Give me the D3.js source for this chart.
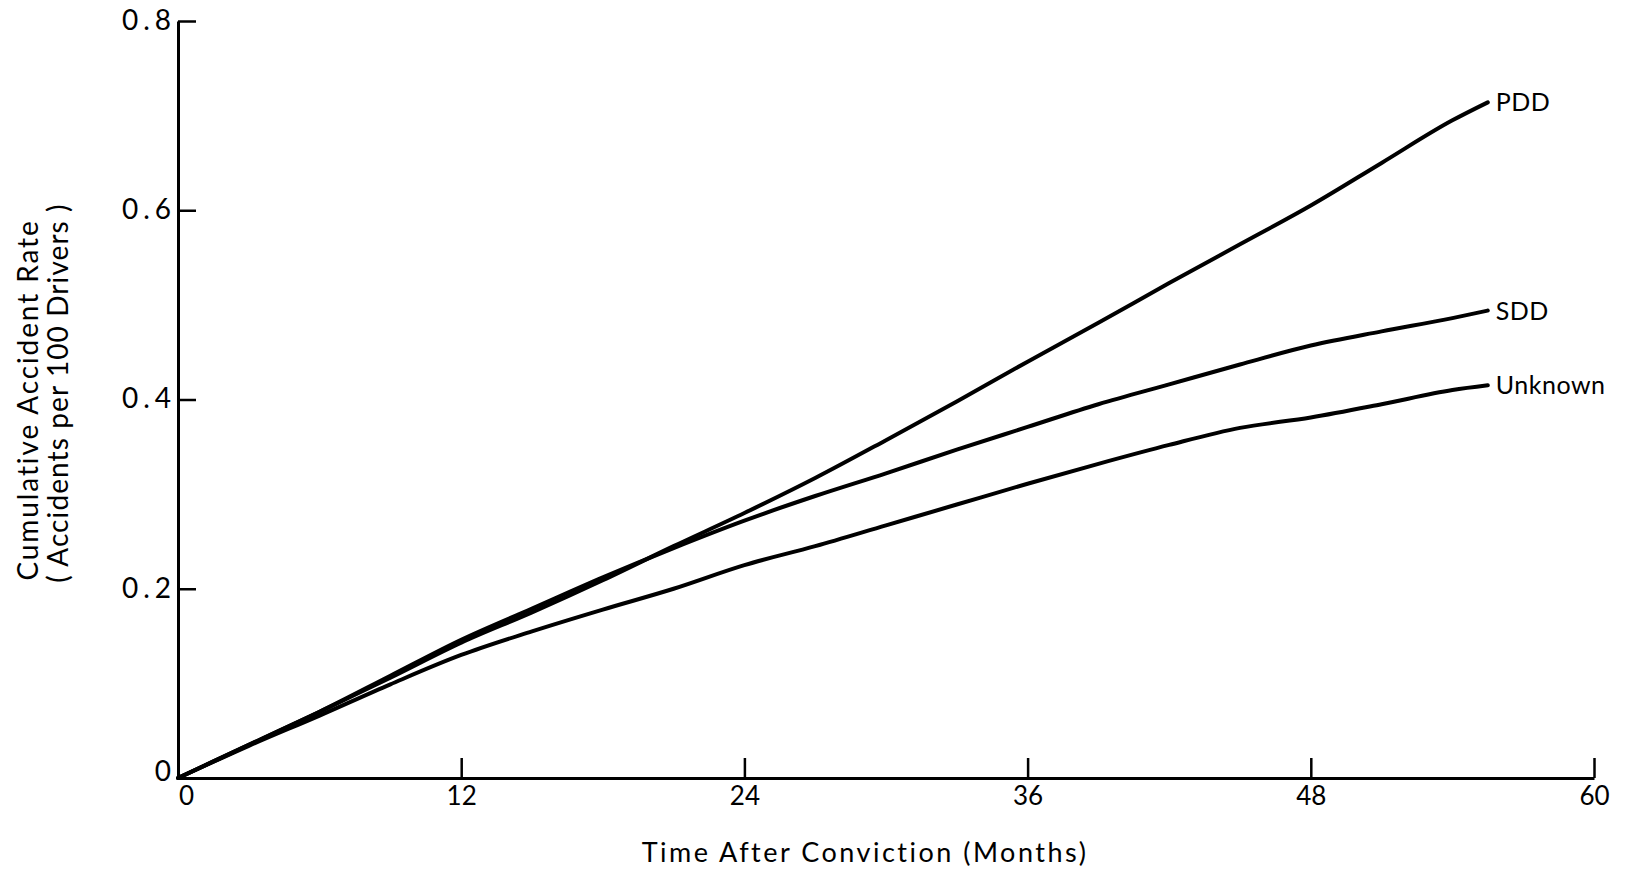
<!DOCTYPE html>
<html>
<head>
<meta charset="utf-8">
<script src="https://cdn.jsdelivr.net/npm/d3@7"></script>
<style>
  body { margin: 0; background: #fff; }
  text { font-family: Lato, "Open Sans", sans-serif; fill: #000; }
</style>
</head>
<body>
<svg id="chart"></svg>
<script>
// months after conviction
var months = [0, 3, 6, 9, 12, 15, 18, 21, 24, 27, 30, 33, 36, 39, 42, 45, 48, 51, 54, 55.5];

var pdd     = [0, 0.035, 0.07, 0.106, 0.143, 0.175, 0.209, 0.245, 0.28, 0.317, 0.357, 0.398, 0.44, 0.481, 0.523, 0.564, 0.605, 0.65, 0.695, 0.714];
var sdd     = [0, 0.035, 0.07, 0.108, 0.146, 0.179, 0.212, 0.243, 0.272, 0.298, 0.322, 0.347, 0.371, 0.395, 0.416, 0.437, 0.457, 0.472, 0.486, 0.494];
var unknown = [0, 0.034, 0.066, 0.099, 0.13, 0.155, 0.178, 0.2, 0.225, 0.245, 0.267, 0.289, 0.311, 0.332, 0.352, 0.37, 0.381, 0.395, 0.41, 0.415];

var seriesNames = ["PDD", "SDD", "Unknown"];
var xTicks = [0, 12, 24, 36, 48, 60];
var yTicks = [0, 0.2, 0.4, 0.6, 0.8];

var series = [pdd, sdd, unknown].map(function (vals, i) {
    return { name: seriesNames[i], values: vals.map(function (v, j) { return { m: months[j], v: v }; }) };
});

var width = 1642, height = 874;

var svg = d3.select("#chart")
    .attr("width", width)
    .attr("height", height);

var x = d3.scaleLinear().domain([0, 60]).range([178, 1594]);
var y = d3.scaleLinear().domain([0, 0.8]).range([778, 21]);

// x axis, ticks pointing up into the plot
var xAxis = svg.append("g")
    .attr("transform", "translate(0," + y(0) + ")")
    .call(d3.axisBottom(x).tickValues(xTicks).tickSizeInner(-20).tickSizeOuter(0).tickPadding(9).tickFormat(d3.format("d")));
xAxis.select(".domain").attr("stroke-width", 3);
xAxis.selectAll(".tick line").attr("stroke-width", 2.5);
xAxis.selectAll(".tick").filter(function (d) { return d === 0; }).select("line").remove();
xAxis.selectAll("text").style("font-size", "26px");
xAxis.selectAll(".tick").filter(function (d) { return d === 0; }).select("text").attr("dx", "8");

// y axis, ticks pointing right
var yAxis = svg.append("g")
    .attr("transform", "translate(" + x(0) + ",0)")
    .call(d3.axisLeft(y).tickValues(yTicks).tickSizeInner(-18).tickSizeOuter(0).tickPadding(9)
        .tickFormat(function (d) { return d === 0 ? "0" : d3.format(".1f")(d); }));
yAxis.select(".domain").attr("stroke-width", 3);
yAxis.selectAll(".tick line").attr("stroke-width", 2.5);
yAxis.selectAll(".tick").filter(function (d) { return d === 0; }).select("line").remove();
yAxis.selectAll("text").style("font-size", "28px").style("letter-spacing", "5px")
    .attr("dx", "7").attr("dy", "0.3em");
yAxis.selectAll(".tick").filter(function (d) { return d === 0; }).select("text").attr("dy", "0.1em");

var line = d3.line()
    .x(function (d) { return x(d.m); })
    .y(function (d) { return y(d.v); })
    .curve(d3.curveMonotoneX);

svg.selectAll("path.series")
    .data(series)
    .enter()
    .append("path")
    .attr("class", "series")
    .attr("d", function (d) { return line(d.values); })
    .attr("fill", "none")
    .attr("stroke", "#000")
    .attr("stroke-width", 4)
    .attr("stroke-linecap", "round");

svg.selectAll("text.label")
    .data(series)
    .enter()
    .append("text")
    .attr("class", "label")
    .attr("x", function (d) { var e = d.values[d.values.length - 1]; return x(e.m) + 8; })
    .attr("y", function (d) { var e = d.values[d.values.length - 1]; return y(e.v) + 9; })
    .style("font-size", "25px")
    .style("letter-spacing", "0.5px")
    .text(function (d) { return d.name; });

// axis titles
svg.append("text")
    .attr("x", 865)
    .attr("y", 862)
    .attr("text-anchor", "middle")
    .style("font-size", "27px")
    .style("letter-spacing", "2.5px")
    .text("Time After Conviction (Months)");

svg.append("text")
    .attr("transform", "translate(38,400) rotate(-90)")
    .attr("text-anchor", "middle")
    .style("font-size", "28px")
    .style("letter-spacing", "1.9px")
    .text("Cumulative Accident Rate");

svg.append("text")
    .attr("transform", "translate(68,393) rotate(-90)")
    .attr("text-anchor", "middle")
    .style("font-size", "28px")
    .style("letter-spacing", "1.1px")
    .text("( Accidents per 100 Drivers )");
</script>
</body>
</html>
